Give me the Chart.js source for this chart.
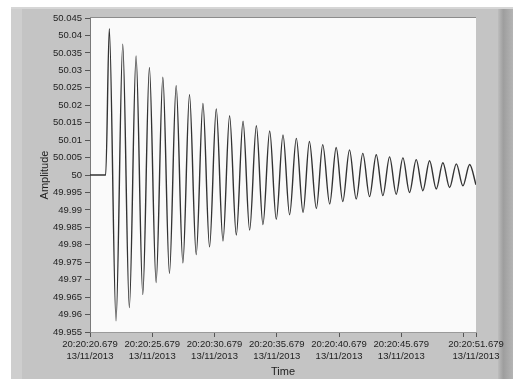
<!DOCTYPE html>
<html lang="en">
<head>
    <meta charset="UTF-8">
    <title>Amplitude vs Time</title>
    <style>
        html, body { margin: 0; padding: 0; background: #fff; }
        .chart-box { width: 513px; height: 379px; position: relative; }
    </style>
</head>
<body>
    <div class="chart-box"><canvas id="waveChart"></canvas></div>
    <script src="https://cdn.jsdelivr.net/npm/chart.js"></script>
    <script>
        // time axis is in seconds after 20:20:20.679
        const startTimes = [0, 1.26];
        const startValues = [50, 50];
        const peakTimes = [1.55, 2.63, 3.70, 4.77, 5.85, 6.92, 7.99, 9.07, 10.14, 11.21, 12.29, 13.36, 14.43, 15.50,
            16.57, 17.62, 18.69, 19.77, 20.84, 21.91, 22.99, 24.06, 25.13, 26.20, 27.27, 28.34, 29.42, 30.49];
        const peakValues = [50.0419, 50.0375, 50.0341, 50.0308, 50.0280, 50.0256, 50.0230, 50.0205, 50.0189, 50.0170,
            50.0154, 50.0141, 50.0126, 50.0115, 50.0105, 50.0096, 50.0087, 50.0079, 50.0072, 50.0062, 50.0058,
            50.0052, 50.0049, 50.0044, 50.0041, 50.0035, 50.0032, 50.0030];
        const troughTimes = [2.09, 3.16, 4.24, 5.31, 6.38, 7.46, 8.53, 9.60, 10.68, 11.75, 12.82, 13.89, 14.96, 16.03,
            17.11, 18.18, 19.25, 20.30, 21.38, 22.45, 23.52, 24.59, 25.66, 26.73, 27.81, 28.88, 29.95, 31.0];
        const troughValues = [49.9582, 49.9620, 49.9657, 49.9692, 49.9718, 49.9748, 49.9772, 49.9794, 49.9811, 49.9828,
            49.9842, 49.9858, 49.9873, 49.9886, 49.9893, 49.9904, 49.9917, 49.9924, 49.9931, 49.9938, 49.9941,
            49.9945, 49.9950, 49.9955, 49.9960, 49.9964, 49.9969, 49.9972];

        const xTickValues = [0, 5, 10, 15, 20, 25, 30, 31];
        const xTickLabels = ['20:20:20.679', '20:20:25.679', '20:20:30.679', '20:20:35.679', '20:20:40.679', '20:20:45.679', '', '20:20:51.679'];
        const dateLabel = '13/11/2013';
        const yTickValues = [50.045, 50.04, 50.035, 50.03, 50.025, 50.02, 50.015, 50.01, 50.005, 50,
            49.995, 49.99, 49.985, 49.98, 49.975, 49.97, 49.965, 49.96, 49.955];
        const yTickLabels = ['50.045', '50.04', '50.035', '50.03', '50.025', '50.02', '50.015', '50.01', '50.005', '50',
            '49.995', '49.99', '49.985', '49.98', '49.975', '49.97', '49.965', '49.96', '49.955'];

        // merge start, peaks and troughs into one sorted series
        let points = startTimes.map((t, i) => ({ x: t, y: startValues[i] }));
        peakTimes.forEach((t, i) => points.push({ x: t, y: peakValues[i] }));
        troughTimes.forEach((t, i) => points.push({ x: t, y: troughValues[i] }));
        points.sort((a, b) => a.x - b.x);

        const tickFont = { family: "'Liberation Sans', Arial, sans-serif", size: 9.5, lineHeight: 1.2 };
        const titleFont = { family: "'Liberation Sans', Arial, sans-serif", size: 11 };

        // grey LabVIEW style panel behind the plot
        const panelBg = {
            id: 'panelBg',
            beforeDraw(chart) {
                const c = chart.ctx, a = chart.chartArea;
                const W = chart.width, H = chart.height;
                c.save();
                c.fillStyle = '#ffffff';
                c.fillRect(0, 0, W, H);
                c.fillStyle = '#c4c4c4';
                c.fillRect(11, 7, W - 11, H - 7);
                c.fillStyle = '#cecece';
                c.fillRect(11, 7, 11, H - 7);
                c.fillStyle = '#d6d6d6';
                c.fillRect(11, 7, W - 11, 2);
                const g = c.createLinearGradient(498, 0, W, 0);
                g.addColorStop(0, '#bdbdbd');
                g.addColorStop(0.35, '#9e9e9e');
                g.addColorStop(1, '#b4b4b4');
                c.fillStyle = g;
                c.fillRect(498, 9, W - 498, H - 9);
                c.fillStyle = '#fafafa';
                c.fillRect(a.left, a.top, a.right - a.left, a.bottom - a.top);
                c.fillStyle = '#8c8c8c';
                c.fillRect(a.left, a.top - 1, a.right - a.left, 1);
                c.restore();
            }
        };

        new Chart(document.getElementById('waveChart'), {
            type: 'line',
            data: {
                datasets: [{
                    data: points,
                    borderColor: '#333333',
                    borderWidth: 1.4,
                    pointRadius: 0,
                    fill: false,
                    cubicInterpolationMode: 'monotone'
                }]
            },
            options: {
                responsive: true,
                maintainAspectRatio: false,
                animation: false,
                layout: { padding: { left: 0, top: 18, right: 37, bottom: 0 } },
                plugins: { legend: { display: false }, tooltip: { enabled: false } },
                scales: {
                    x: {
                        type: 'linear',
                        min: 0,
                        max: 31,
                        afterBuildTicks: (s) => { s.ticks = xTickValues.map(v => ({ value: v })); },
                        afterFit: (s) => { s.height = 47; },
                        ticks: {
                            autoSkip: false,
                            maxRotation: 0,
                            padding: 2,
                            color: '#1e1e1e',
                            font: tickFont,
                            callback: (v, i) => xTickLabels[i] ? [xTickLabels[i], dateLabel] : ''
                        },
                        grid: { drawOnChartArea: false, tickLength: 5, color: '#555' },
                        border: { display: true, color: '#9a9a9a' },
                        title: { display: true, text: 'Time', color: '#1e1e1e', font: titleFont, padding: 0 }
                    },
                    y: {
                        min: 49.955,
                        max: 50.045,
                        afterBuildTicks: (s) => { s.ticks = yTickValues.map(v => ({ value: v })); },
                        afterFit: (s) => { s.width = 90; },
                        ticks: {
                            autoSkip: false,
                            padding: 3,
                            color: '#1e1e1e',
                            font: tickFont,
                            callback: (v, i) => yTickLabels[i]
                        },
                        grid: { drawOnChartArea: false, tickLength: 5, color: '#555' },
                        border: { display: true, color: '#7a7a7a' },
                        title: { display: true, text: 'Amplitude', color: '#1e1e1e', font: titleFont, padding: { top: 38 } }
                    }
                }
            },
            plugins: [panelBg]
        });
    </script>
</body>
</html>
